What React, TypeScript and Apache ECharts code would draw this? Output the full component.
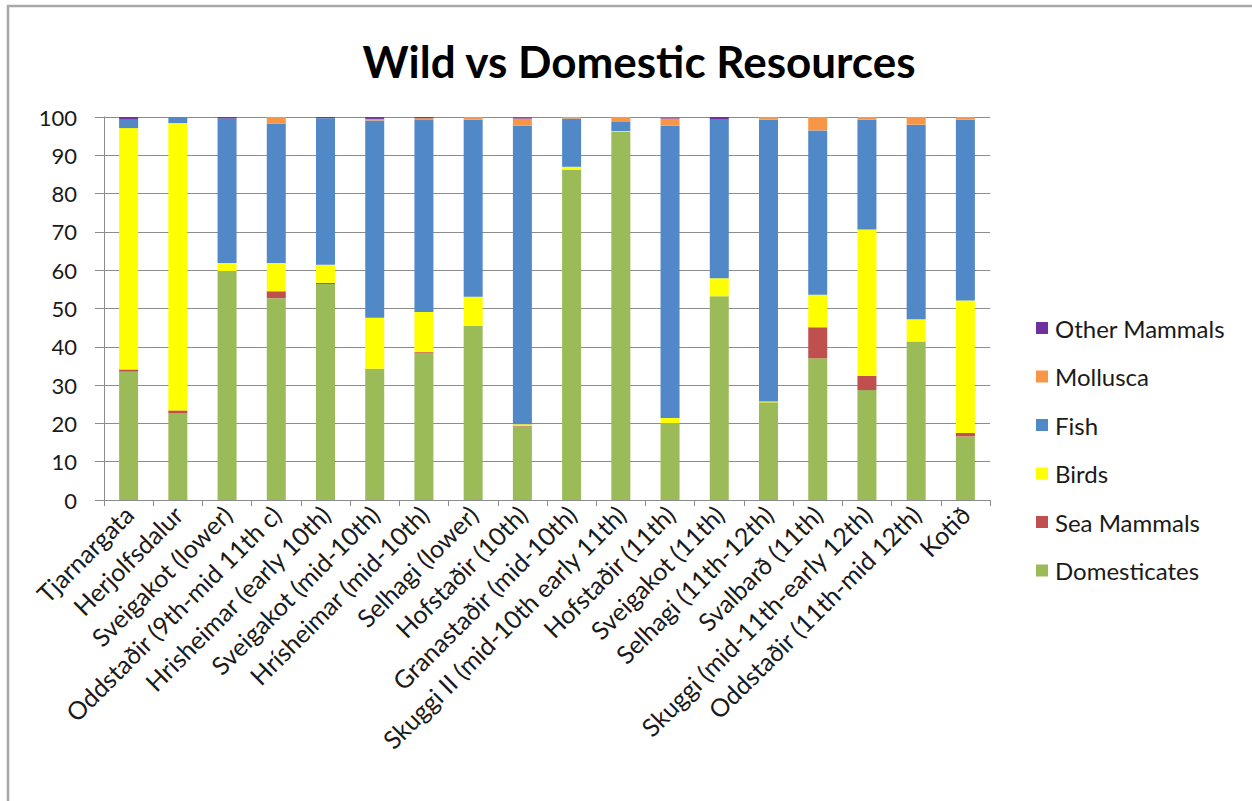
import React, { useEffect, useRef } from "react";
import * as echarts from "echarts";

// Archaeofaunal sites (NISP %) in chart order
const categories = [
  "Tjarnargata",
  "Herjolfsdalur",
  "Sveigakot (lower)",
  "Oddstaðir (9th-mid 11th c)",
  "Hrisheimar (early 10th)",
  "Sveigakot (mid-10th)",
  "Hrísheimar (mid-10th)",
  "Selhagi (lower)",
  "Hofstaðir (10th)",
  "Granastaðir (mid-10th)",
  "Skuggi II (mid-10th early 11th)",
  "Hofstaðir (11th)",
  "Sveigakot (11th)",
  "Selhagi (11th-12th)",
  "Svalbarð (11th)",
  "Skuggi (mid-11th-early 12th)",
  "Oddstaðir (11th-mid 12th)",
  "Kotið",
];

const domesticates = [33.5, 22.7, 59.8, 52.7, 56.4, 34.3, 38.3, 45.5, 19.2, 86.2, 96.1, 20.1, 53.2, 25.5, 37.0, 28.7, 41.4, 16.6];
const seaMammals = [0.6, 0.7, 0, 1.8, 0.3, 0, 0.3, 0, 0.2, 0, 0, 0, 0, 0, 8.1, 3.7, 0, 0.9];
const birds = [63.0, 75.0, 2.1, 7.4, 4.7, 13.3, 10.5, 7.6, 0.4, 0.8, 0.2, 1.3, 4.7, 0.2, 8.5, 38.2, 5.8, 34.6];
const fish = [2.2, 1.6, 37.7, 36.4, 38.3, 51.5, 50.1, 46.2, 78.0, 12.6, 2.4, 76.4, 41.4, 73.6, 42.9, 28.7, 50.8, 47.2];
const mollusca = [0, 0, 0, 1.7, 0, 0.4, 0.5, 0.7, 1.8, 0.4, 1.3, 1.8, 0, 0.7, 3.5, 0.7, 2.0, 0.7];
const otherMammals = [0.7, 0, 0.4, 0, 0.3, 0.5, 0.3, 0, 0.3, 0, 0, 0.2, 0.7, 0, 0, 0, 0, 0];

const yTicks = [0, 10, 20, 30, 40, 50, 60, 70, 80, 90, 100];

const FONT = "Lato, 'Open Sans', sans-serif";

const seriesDefs = [
  { name: "Domesticates", data: domesticates, color: "#9BBB59" },
  { name: "Sea Mammals", data: seaMammals, color: "#C0504D" },
  { name: "Birds", data: birds, color: "#FFFF00" },
  { name: "Fish", data: fish, color: "#5189C8" },
  { name: "Mollusca", data: mollusca, color: "#F79646" },
  { name: "Other Mammals", data: otherMammals, color: "#7030A0" },
];

export default function App() {
  const ref = useRef<HTMLDivElement>(null);

  useEffect(() => {
    if (!ref.current) return;
    const chart = echarts.init(ref.current, null, { renderer: "svg" });
    chart.setOption({
      animation: false,
      backgroundColor: "#ffffff",
      title: {
        text: "Wild vs Domestic Resources",
        left: 634,
        textAlign: "center",
        top: 34,
        textStyle: {
          fontFamily: FONT,
          fontWeight: "bold",
          fontSize: 44,
          color: "#000000",
        },
      },
      graphic: [
        {
          type: "rect",
          shape: { x: 8, y: 6, width: 1400, height: 1000 },
          style: { fill: "none", stroke: "#a8a8a8", lineWidth: 2.5 },
          silent: true,
        },
      ],
      legend: {
        orient: "vertical",
        left: 1031,
        top: 311,
        itemWidth: 12,
        itemHeight: 12,
        itemGap: 24.5,
        icon: "rect",
        data: seriesDefs.map((s) => s.name).reverse(),
        textStyle: { fontFamily: FONT, fontSize: 24, color: "#1a1a1a", padding: [0, 0, 0, 2] },
      },
      grid: { left: 104, right: 262, top: 117, bottom: 301 },
      xAxis: {
        type: "category",
        data: categories,
        axisLine: { lineStyle: { color: "#8c8c8c", width: 1 } },
        axisTick: { show: true, length: 6, lineStyle: { color: "#8c8c8c" } },
        axisLabel: {
          rotate: 45,
          interval: 0,
          margin: 10,
          fontFamily: FONT,
          fontSize: 25,
          color: "#1a1a1a",
        },
      },
      yAxis: {
        type: "value",
        min: yTicks[0],
        max: yTicks[yTicks.length - 1],
        interval: 10,
        axisLine: { show: true, lineStyle: { color: "#8c8c8c", width: 1 } },
        axisTick: { show: true, length: 9, lineStyle: { color: "#8c8c8c" } },
        splitLine: { lineStyle: { color: "#8c8c8c", width: 1 } },
        axisLabel: {
          margin: 27,
          fontFamily: FONT,
          fontSize: 22,
          color: "#1a1a1a",
        },
      },
      series: seriesDefs.map((s) => ({
        name: s.name,
        type: "bar",
        stack: "total",
        barWidth: 19,
        data: s.data,
        itemStyle: { color: s.color },
      })),
    });
    return () => chart.dispose();
  }, []);

  return (
    <div
      ref={ref}
      style={{ position: "fixed", left: 0, top: 0, width: 1252, height: 801 }}
    />
  );
}
